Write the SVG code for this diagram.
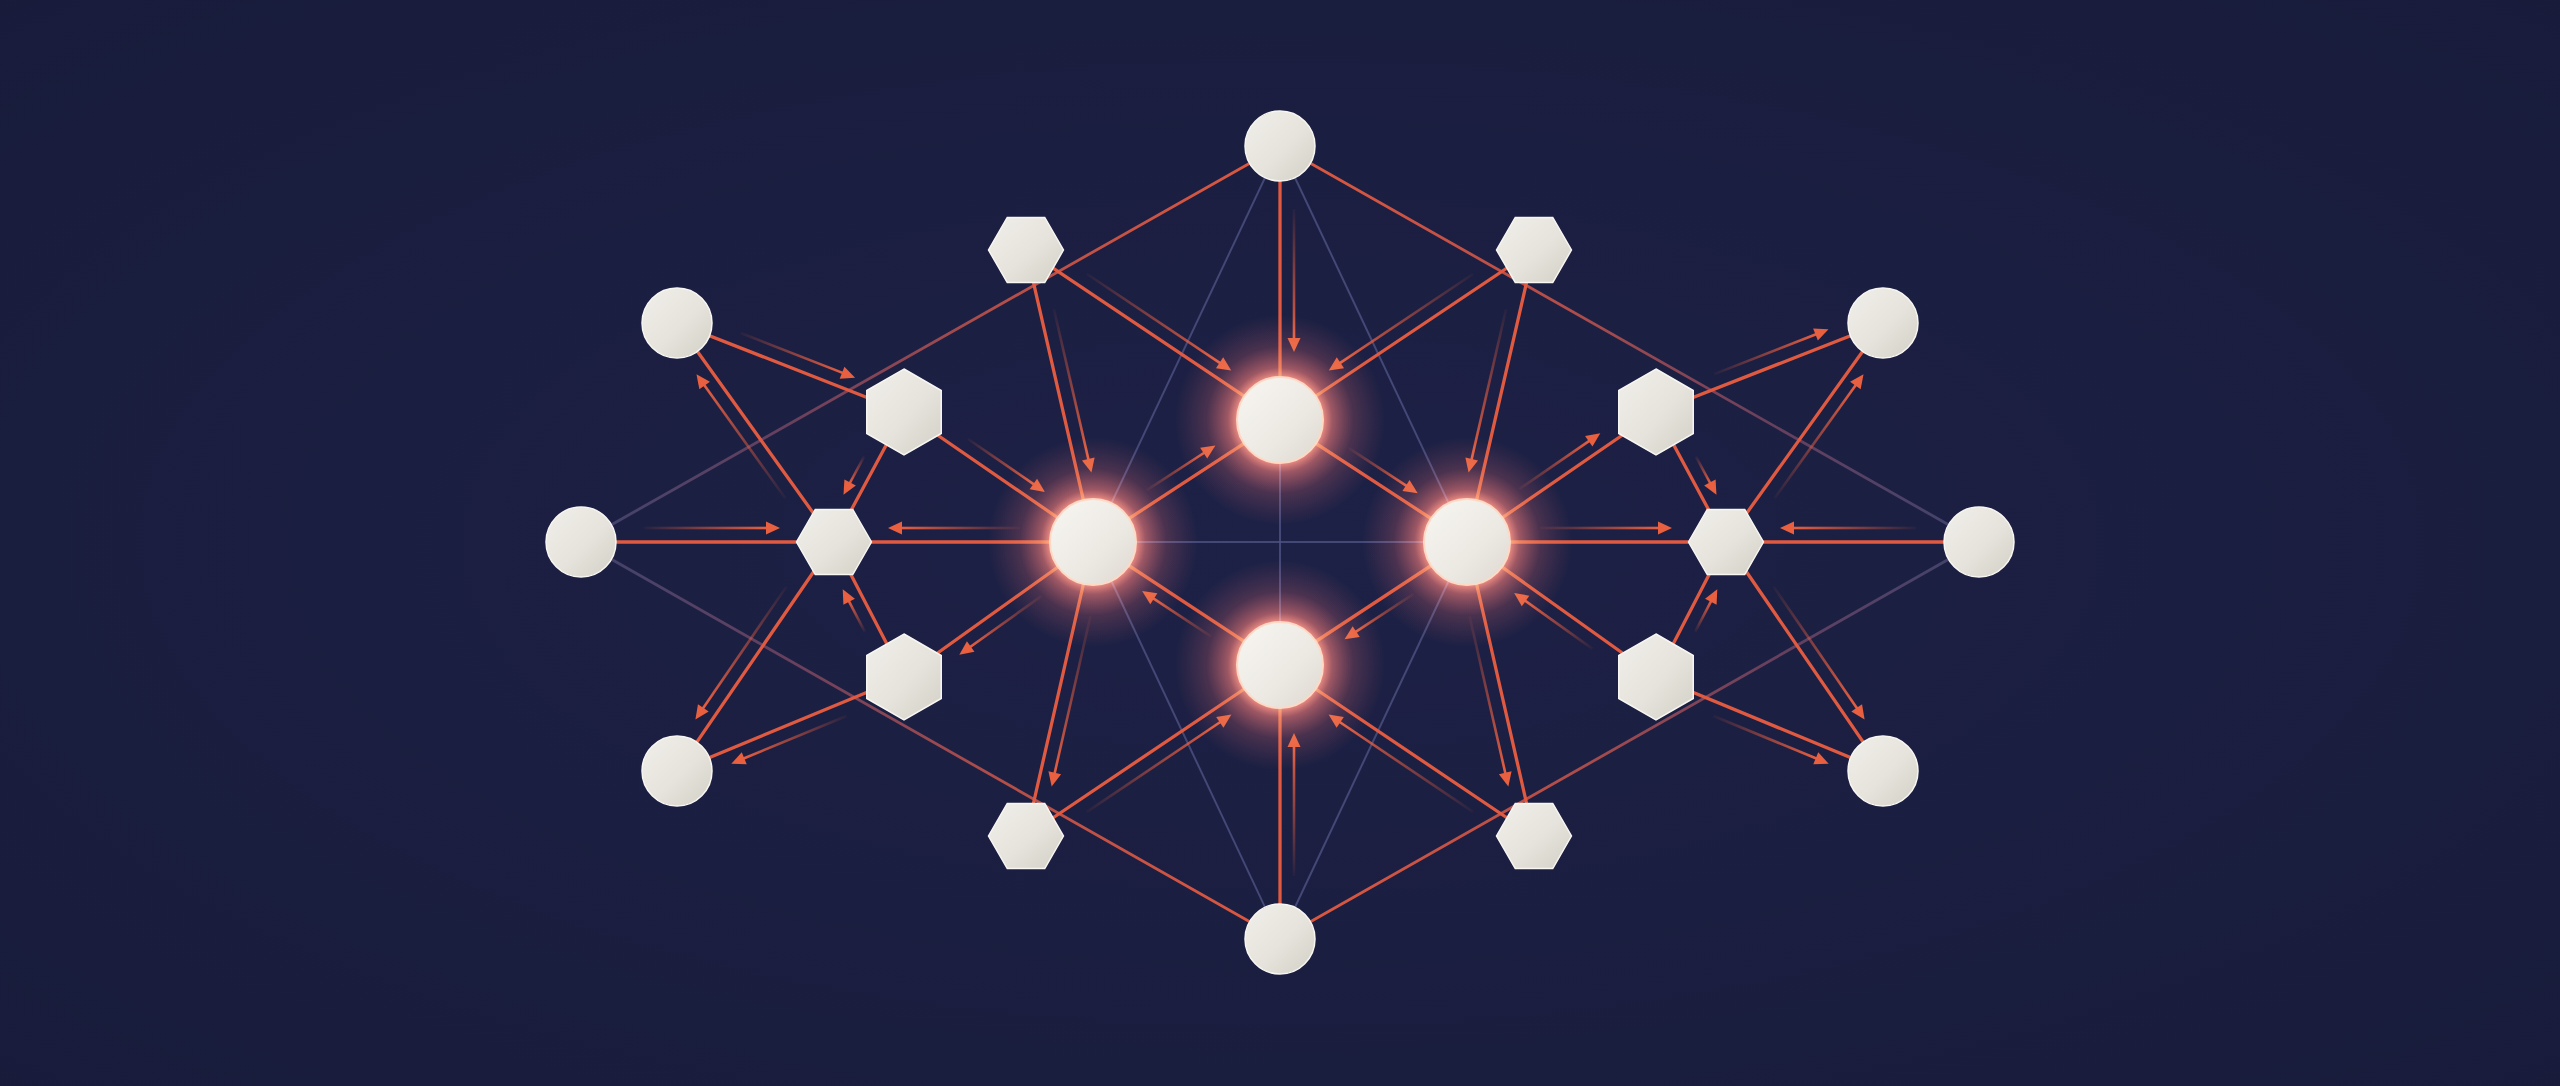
<svg xmlns="http://www.w3.org/2000/svg" width="2560" height="1086" viewBox="0 0 2560 1086">
<defs>
<style>
.gl{stroke:#4d5283;stroke-width:2;stroke-opacity:.8;fill:none}
.ol{stroke:#df5a41;stroke-width:3.3;stroke-linecap:round;fill:none}
.lg{stroke-width:2.8;fill:none;stroke-linecap:round}
.sh{fill:url(#fade)}
.hd{fill:#e8603f}
.node{fill:url(#nf);stroke:#f7f6f2;stroke-width:1.5}
.gnode{fill:url(#gf);stroke:#ffd9c4;stroke-width:2}
.glow{fill:url(#glow);mix-blend-mode:screen}
</style>
<radialGradient id="bg" cx="50%" cy="50%" r="75%">
<stop offset="0" stop-color="#1d2146"/>
<stop offset="1" stop-color="#181b3a"/>
</radialGradient>
<linearGradient id="fade" x1="0" y1="0" x2="1" y2="0">
<stop offset="0" stop-color="#e45c40" stop-opacity="0.05"/>
<stop offset="0.45" stop-color="#e45c40" stop-opacity="0.5"/>
<stop offset="1" stop-color="#e85f42" stop-opacity="1"/>
</linearGradient>
<linearGradient id="lg1" gradientUnits="userSpaceOnUse" x1="1280" y1="146" x2="581" y2="542">
<stop offset="0" stop-color="#e0593f"/><stop offset="0.4" stop-color="#c4534a" stop-opacity=".9"/><stop offset="0.7" stop-color="#7c4864" stop-opacity=".8"/><stop offset="1" stop-color="#4a4f7c" stop-opacity=".75"/>
</linearGradient>
<linearGradient id="lg2" gradientUnits="userSpaceOnUse" x1="1280" y1="146" x2="1979" y2="542">
<stop offset="0" stop-color="#e0593f"/><stop offset="0.4" stop-color="#c4534a" stop-opacity=".9"/><stop offset="0.7" stop-color="#7c4864" stop-opacity=".8"/><stop offset="1" stop-color="#4a4f7c" stop-opacity=".75"/>
</linearGradient>
<linearGradient id="lg3" gradientUnits="userSpaceOnUse" x1="1280" y1="939" x2="581" y2="542">
<stop offset="0" stop-color="#e0593f"/><stop offset="0.4" stop-color="#c4534a" stop-opacity=".9"/><stop offset="0.7" stop-color="#7c4864" stop-opacity=".8"/><stop offset="1" stop-color="#4a4f7c" stop-opacity=".75"/>
</linearGradient>
<linearGradient id="lg4" gradientUnits="userSpaceOnUse" x1="1280" y1="939" x2="1979" y2="542">
<stop offset="0" stop-color="#e0593f"/><stop offset="0.4" stop-color="#c4534a" stop-opacity=".9"/><stop offset="0.7" stop-color="#7c4864" stop-opacity=".8"/><stop offset="1" stop-color="#4a4f7c" stop-opacity=".75"/>
</linearGradient>
<radialGradient id="glow">
<stop offset="0.4" stop-color="#ff8a60" stop-opacity="0.95"/>
<stop offset="0.5" stop-color="#f26a48" stop-opacity="0.6"/>
<stop offset="0.7" stop-color="#d8553c" stop-opacity="0.24"/>
<stop offset="1" stop-color="#c04a38" stop-opacity="0"/>
</radialGradient>
<linearGradient id="nf" x1="0" y1="0" x2="1" y2="1">
<stop offset="0" stop-color="#f1efea"/>
<stop offset="0.55" stop-color="#e6e3dc"/>
<stop offset="1" stop-color="#d2cfc6"/>
</linearGradient>
<linearGradient id="gf" x1="0" y1="0" x2="1" y2="1">
<stop offset="0" stop-color="#f8f6f2"/>
<stop offset="0.6" stop-color="#ece9e3"/>
<stop offset="1" stop-color="#dcd8cf"/>
</linearGradient>
<polygon id="hexF" points="37.5,0 18.75,32.5 -18.75,32.5 -37.5,0 -18.75,-32.5 18.75,-32.5"/>
<polygon id="hexP" points="0,-43 37.24,-21.5 37.24,21.5 0,43 -37.24,21.5 -37.24,-21.5"/>
<path id="ah" d="M0 0 L-14 -6.5 L-14 6.5 Z"/>
</defs>
<rect width="2560" height="1086" fill="url(#bg)"/>

<g id="connectors">
<g id="grey-lines">
<line class="gl" x1="1280" y1="146" x2="1093" y2="542"/>
<line class="gl" x1="1280" y1="146" x2="1467" y2="542"/>
<line class="gl" x1="1280" y1="939" x2="1093" y2="542"/>
<line class="gl" x1="1280" y1="939" x2="1467" y2="542"/>
<line class="gl" x1="1093" y1="542" x2="1467" y2="542"/>
<line class="gl" x1="1280" y1="420" x2="1280" y2="665"/>
</g>
<g id="long-lines">
<line class="lg" stroke="url(#lg1)" x1="1280" y1="146" x2="581" y2="542"/>
<line class="lg" stroke="url(#lg2)" x1="1280" y1="146" x2="1979" y2="542"/>
<line class="lg" stroke="url(#lg3)" x1="1280" y1="939" x2="581" y2="542"/>
<line class="lg" stroke="url(#lg4)" x1="1280" y1="939" x2="1979" y2="542"/>
</g>
<g id="edges">
<line class="ol" x1="677" y1="323" x2="904" y2="412"/>
<line class="ol" x1="834" y1="542" x2="677" y2="323"/>
<line class="ol" x1="581" y1="542" x2="1093" y2="542"/>
<line class="ol" x1="904" y1="412" x2="834" y2="542"/>
<line class="ol" x1="904" y1="412" x2="1093" y2="542"/>
<line class="ol" x1="904" y1="677" x2="834" y2="542"/>
<line class="ol" x1="1093" y1="542" x2="904" y2="677"/>
<line class="ol" x1="834" y1="542" x2="677" y2="771"/>
<line class="ol" x1="904" y1="677" x2="677" y2="771"/>
<line class="ol" x1="1467" y1="542" x2="1656" y2="412"/>
<line class="ol" x1="1656" y1="412" x2="1883" y2="323"/>
<line class="ol" x1="1656" y1="412" x2="1726" y2="542"/>
<line class="ol" x1="1726" y1="542" x2="1883" y2="323"/>
<line class="ol" x1="1467" y1="542" x2="1979" y2="542"/>
<line class="ol" x1="1656" y1="677" x2="1467" y2="542"/>
<line class="ol" x1="1656" y1="677" x2="1726" y2="542"/>
<line class="ol" x1="1726" y1="542" x2="1883" y2="771"/>
<line class="ol" x1="1656" y1="677" x2="1883" y2="771"/>
<line class="ol" x1="1280" y1="146" x2="1280" y2="420"/>
<line class="ol" x1="1026" y1="250" x2="1280" y2="420"/>
<line class="ol" x1="1534" y1="250" x2="1280" y2="420"/>
<line class="ol" x1="1026" y1="250" x2="1093" y2="542"/>
<line class="ol" x1="1534" y1="250" x2="1467" y2="542"/>
<line class="ol" x1="1093" y1="542" x2="1280" y2="420"/>
<line class="ol" x1="1280" y1="420" x2="1467" y2="542"/>
<line class="ol" x1="1280" y1="665" x2="1093" y2="542"/>
<line class="ol" x1="1467" y1="542" x2="1280" y2="665"/>
<line class="ol" x1="1093" y1="542" x2="1026" y2="836"/>
<line class="ol" x1="1467" y1="542" x2="1534" y2="836"/>
<line class="ol" x1="1026" y1="836" x2="1280" y2="665"/>
<line class="ol" x1="1534" y1="836" x2="1280" y2="665"/>
<line class="ol" x1="1280" y1="939" x2="1280" y2="665"/>
</g>
<g id="arrows">
<g transform="translate(677 323) rotate(21.41)"><rect class="sh" x="63" y="-15.3" width="110.8" height="2.6"/><use class="hd" href="#ah" x="185.8" y="-14"/></g>
<g transform="translate(834 542) rotate(-125.64)"><rect class="sh" x="64" y="-15.3" width="140.5" height="2.6"/><use class="hd" href="#ah" x="216.5" y="-14"/></g>
<g transform="translate(581 542) rotate(0)"><rect class="sh" x="63" y="-15.3" width="124" height="2.6"/><use class="hd" href="#ah" x="199" y="-14"/></g>
<g transform="translate(1093 542) rotate(180)"><rect class="sh" x="73" y="12.7" width="120" height="2.6"/><use class="hd" href="#ah" x="205" y="14"/></g>
<g transform="translate(904 412) rotate(118.30)"><rect class="sh" x="58" y="12.7" width="31.6" height="2.6"/><use class="hd" href="#ah" x="101.6" y="14"/></g>
<g transform="translate(904 412) rotate(34.52)"><rect class="sh" x="68" y="-15.3" width="81.4" height="2.6"/><use class="hd" href="#ah" x="161.4" y="-14"/></g>
<g transform="translate(904 677) rotate(-117.41)"><rect class="sh" x="58" y="-15.3" width="36.1" height="2.6"/><use class="hd" href="#ah" x="106.1" y="-14"/></g>
<g transform="translate(1093 542) rotate(144.46)"><rect class="sh" x="73" y="-15.3" width="89.3" height="2.6"/><use class="hd" href="#ah" x="174.3" y="-14"/></g>
<g transform="translate(834 542) rotate(124.43)"><rect class="sh" x="64" y="12.7" width="148.7" height="2.6"/><use class="hd" href="#ah" x="224.7" y="14"/></g>
<g transform="translate(904 677) rotate(157.51)"><rect class="sh" x="68" y="-15.3" width="112.7" height="2.6"/><use class="hd" href="#ah" x="192.7" y="-14"/></g>
<g transform="translate(1467 542) rotate(-34.52)"><rect class="sh" x="73" y="-15.3" width="86.4" height="2.6"/><use class="hd" href="#ah" x="171.4" y="-14"/></g>
<g transform="translate(1656 412) rotate(-21.41)"><rect class="sh" x="68" y="-15.3" width="110.8" height="2.6"/><use class="hd" href="#ah" x="190.8" y="-14"/></g>
<g transform="translate(1656 412) rotate(61.70)"><rect class="sh" x="58" y="-15.3" width="31.6" height="2.6"/><use class="hd" href="#ah" x="101.6" y="-14"/></g>
<g transform="translate(1726 542) rotate(-54.36)"><rect class="sh" x="64" y="12.7" width="140.5" height="2.6"/><use class="hd" href="#ah" x="216.5" y="14"/></g>
<g transform="translate(1467 542) rotate(0)"><rect class="sh" x="73" y="-15.3" width="120" height="2.6"/><use class="hd" href="#ah" x="205" y="-14"/></g>
<g transform="translate(1979 542) rotate(180)"><rect class="sh" x="63" y="12.7" width="124" height="2.6"/><use class="hd" href="#ah" x="199" y="14"/></g>
<g transform="translate(1656 677) rotate(-144.46)"><rect class="sh" x="68" y="-15.3" width="84.3" height="2.6"/><use class="hd" href="#ah" x="164.3" y="-14"/></g>
<g transform="translate(1656 677) rotate(-62.59)"><rect class="sh" x="58" y="12.7" width="36.1" height="2.6"/><use class="hd" href="#ah" x="106.1" y="14"/></g>
<g transform="translate(1726 542) rotate(55.57)"><rect class="sh" x="64" y="-15.3" width="148.7" height="2.6"/><use class="hd" href="#ah" x="224.7" y="-14"/></g>
<g transform="translate(1656 677) rotate(22.49)"><rect class="sh" x="68" y="12.7" width="112.7" height="2.6"/><use class="hd" href="#ah" x="192.7" y="14"/></g>
<g transform="translate(1280 146) rotate(90)"><rect class="sh" x="63" y="-15.3" width="131" height="2.6"/><use class="hd" href="#ah" x="206" y="-14"/></g>
<g transform="translate(1026 250) rotate(33.80)"><rect class="sh" x="64" y="-15.3" width="161.6" height="2.6"/><use class="hd" href="#ah" x="237.6" y="-14"/></g>
<g transform="translate(1534 250) rotate(146.20)"><rect class="sh" x="64" y="12.7" width="161.6" height="2.6"/><use class="hd" href="#ah" x="237.6" y="14"/></g>
<g transform="translate(1026 250) rotate(77.08)"><rect class="sh" x="64" y="-15.3" width="155.6" height="2.6"/><use class="hd" href="#ah" x="231.6" y="-14"/></g>
<g transform="translate(1534 250) rotate(102.92)"><rect class="sh" x="64" y="12.7" width="155.6" height="2.6"/><use class="hd" href="#ah" x="231.6" y="14"/></g>
<g transform="translate(1093 542) rotate(-33.12)"><rect class="sh" x="73" y="-15.3" width="70.3" height="2.6"/><use class="hd" href="#ah" x="155.3" y="-14"/></g>
<g transform="translate(1280 420) rotate(33.12)"><rect class="sh" x="73" y="-15.3" width="70.3" height="2.6"/><use class="hd" href="#ah" x="155.3" y="-14"/></g>
<g transform="translate(1280 665) rotate(-146.67)"><rect class="sh" x="73" y="-15.3" width="70.8" height="2.6"/><use class="hd" href="#ah" x="155.8" y="-14"/></g>
<g transform="translate(1467 542) rotate(146.67)"><rect class="sh" x="73" y="-15.3" width="70.8" height="2.6"/><use class="hd" href="#ah" x="155.8" y="-14"/></g>
<g transform="translate(1093 542) rotate(102.84)"><rect class="sh" x="73" y="-15.3" width="162.5" height="2.6"/><use class="hd" href="#ah" x="247.5" y="-14"/></g>
<g transform="translate(1467 542) rotate(77.16)"><rect class="sh" x="73" y="12.7" width="162.5" height="2.6"/><use class="hd" href="#ah" x="247.5" y="14"/></g>
<g transform="translate(1026 836) rotate(-33.95)"><rect class="sh" x="64" y="12.7" width="162.2" height="2.6"/><use class="hd" href="#ah" x="238.2" y="14"/></g>
<g transform="translate(1534 836) rotate(-146.05)"><rect class="sh" x="64" y="-15.3" width="162.2" height="2.6"/><use class="hd" href="#ah" x="238.2" y="-14"/></g>
<g transform="translate(1280 939) rotate(-90)"><rect class="sh" x="63" y="12.7" width="131" height="2.6"/><use class="hd" href="#ah" x="206" y="14"/></g>
</g>
</g>

<g id="nodes">
<g id="n-top"><circle class="node" cx="1280" cy="146" r="35"/></g>
<g id="n-bottom"><circle class="node" cx="1280" cy="939" r="35"/></g>
<g id="n-glow-top"><circle class="glow" cx="1280" cy="420" r="105"/><circle class="gnode" cx="1280" cy="420" r="43"/></g>
<g id="n-glow-bottom"><circle class="glow" cx="1280" cy="665" r="105"/><circle class="gnode" cx="1280" cy="665" r="43"/></g>
<g id="n-glow-left"><circle class="glow" cx="1093" cy="542" r="105"/><circle class="gnode" cx="1093" cy="542" r="43"/></g>
<g id="n-glow-right"><circle class="glow" cx="1467" cy="542" r="105"/><circle class="gnode" cx="1467" cy="542" r="43"/></g>
<g id="n-hex-top-left" transform="translate(1026 250)"><use class="node" href="#hexF"/></g>
<g id="n-hex-top-right" transform="translate(1534 250)"><use class="node" href="#hexF"/></g>
<g id="n-hex-bottom-left" transform="translate(1026 836)"><use class="node" href="#hexF"/></g>
<g id="n-hex-bottom-right" transform="translate(1534 836)"><use class="node" href="#hexF"/></g>
<g id="n-outer-top-left"><circle class="node" cx="677" cy="323" r="35"/></g>
<g id="n-outer-left"><circle class="node" cx="581" cy="542" r="35"/></g>
<g id="n-outer-bottom-left"><circle class="node" cx="677" cy="771" r="35"/></g>
<g id="n-outer-top-right"><circle class="node" cx="1883" cy="323" r="35"/></g>
<g id="n-outer-right"><circle class="node" cx="1979" cy="542" r="35"/></g>
<g id="n-outer-bottom-right"><circle class="node" cx="1883" cy="771" r="35"/></g>
<g id="n-inner-top-left" transform="translate(904 412)"><use class="node" href="#hexP"/></g>
<g id="n-inner-bottom-left" transform="translate(904 677)"><use class="node" href="#hexP"/></g>
<g id="n-inner-top-right" transform="translate(1656 412)"><use class="node" href="#hexP"/></g>
<g id="n-inner-bottom-right" transform="translate(1656 677)"><use class="node" href="#hexP"/></g>
<g id="n-hub-left" transform="translate(834 542)"><use class="node" href="#hexF"/></g>
<g id="n-hub-right" transform="translate(1726 542)"><use class="node" href="#hexF"/></g>
</g>
</svg>
